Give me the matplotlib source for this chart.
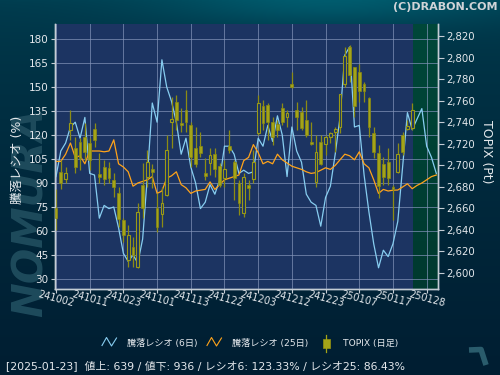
import matplotlib
matplotlib.use("Agg")
import matplotlib.pyplot as plt
import matplotlib.transforms as mtransforms
import numpy as np
from matplotlib.ticker import FuncFormatter

plt.rcParams['font.family'] = ['DejaVu Sans', 'Noto Sans CJK JP']

# x axis: one slot per trading day, a label every 7 slots
tick_labels = ["241002", "241011", "241023", "241101", "241113", "241122",
               "241203", "241212", "241223", "250107", "250117", "250128"]
tick_step = 7
last_day = 74  # 2025-01-23

# advance/decline ratio (%), 6-day and 25-day
ratio6 = [94, 110, 115, 125, 128, 118, 131, 96, 95, 68,
          76, 74, 75, 62, 46, 41, 45, 40, 55, 95,
          140, 128, 167, 150, 141, 128, 108, 118, 100, 90,
          74, 78, 89, 83, 92, 113, 113, 108, 96, 98,
          96, 97, 118, 113, 126, 116, 132, 120, 94, 125,
          110, 103, 83, 78, 76, 63, 81, 88, 108, 131,
          170, 175, 125, 126, 95, 72, 52, 37, 48, 44,
          52, 66, 100, 134, 123.33, 130, 136.5, 113, 106, 96]
ratio25 = [103.5, 103.5, 108, 115, 106, 107, 102, 110, 110, 110,
           109.5, 110, 117, 102, 100, 97, 88, 90, 91, 92,
           94, 83.5, 85, 93, 94.5, 97, 89, 87, 83.5, 85,
           85.5, 86, 90.7, 86, 89, 92, 93, 94, 95, 104,
           106, 114, 109, 102, 103.5, 102, 108, 104.5, 102.5, 100.5,
           99.5, 98.5, 97, 96, 96.5, 98, 99.5, 98.5, 101, 104.5,
           108, 107, 104.5, 109.5, 102, 99.5, 92, 83.5, 86, 85,
           85.5, 85.6, 87.5, 89.5, 86.43, 88.5, 90, 92, 94, 95]

# TOPIX daily candles (Pt)
topix_open = [2660, 2694, 2687, 2732.6, 2715.6, 2721.8, 2726.4, 2720.2, 2734, 2691.7,
              2698.6, 2697, 2686, 2673.8, 2649, 2612, 2624, 2605.6, 2681.5, 2689.3,
              2696, 2659.8, 2655, 2672.2, 2740, 2759, 2739.5, 2751.2, 2737.3, 2715.6,
              2717.8, 2692.4, 2702.3, 2710.3, 2699.2, 2687.7, 2717.8, 2703.2, 2683, 2655.8,
              2681.5, 2686.8, 2730, 2755, 2755.9, 2740.4, 2738, 2752.8, 2745, 2775.4,
              2751.2, 2749.7, 2742, 2721.5, 2684.6, 2721.2, 2719.6, 2726.4, 2730.4, 2735.1,
              2775.4, 2809.5, 2790.9, 2786.2, 2775.4, 2762, 2729.5, 2711, 2701, 2703.2,
              2680, 2693.9, 2728, 2733.2, 2734.2]
topix_high = [2678, 2705, 2698, 2751, 2726.5, 2725, 2738.8, 2725, 2738.8, 2711,
              2705, 2703, 2692.4, 2680, 2650.5, 2644, 2633.5, 2664.5, 2702, 2714,
              2701, 2673.8, 2680, 2728, 2763.6, 2765, 2752.8, 2769.8, 2740.4, 2735.7,
              2731, 2706.3, 2715.6, 2715.6, 2701.7, 2705, 2732.6, 2705, 2686, 2692.4,
              2686, 2714, 2765, 2760.5, 2757.4, 2745, 2742, 2757.4, 2751, 2786.8,
              2759, 2753.7, 2760.5, 2740.4, 2728, 2728, 2728, 2731, 2735, 2766.1,
              2810, 2812, 2791.5, 2794, 2777.6, 2763, 2735.7, 2718.7, 2707.9, 2715.6,
              2681.5, 2720.2, 2731, 2742, 2757.5]
topix_low = [2640, 2678, 2683, 2723, 2692.4, 2695.5, 2704.8, 2695.5, 2717, 2683,
             2681.5, 2683, 2670.7, 2642.8, 2628.8, 2605.6, 2605.6, 2604, 2651, 2680,
             2679, 2638, 2642.8, 2671.6, 2715.6, 2732.6, 2731, 2731, 2698.6, 2698.6,
             2707.9, 2686, 2690.8, 2689.3, 2680, 2680, 2711, 2667.6, 2653.6, 2652,
             2667.6, 2683, 2728, 2732.6, 2723.4, 2718.7, 2726.4, 2737.3, 2735, 2771.4,
             2732.6, 2732.6, 2726.4, 2718.7, 2680, 2700.1, 2709.4, 2721, 2712, 2729.5,
             2773, 2777, 2745, 2759, 2759, 2726.4, 2706.3, 2669.1, 2681.5, 2681.5,
             2649, 2692.4, 2709.4, 2732.6, 2732.6]
topix_close = [2650.5, 2683, 2693, 2738.8, 2698.6, 2706.3, 2712.5, 2704.8, 2723.3, 2689.3,
               2686.8, 2687.7, 2679.4, 2649.6, 2635, 2635, 2616.5, 2656.7, 2660, 2703.2,
               2694, 2642.8, 2664.5, 2714, 2743, 2742, 2737.6, 2740.4, 2707.9, 2700.7,
               2711, 2690.2, 2709.4, 2696.4, 2681.5, 2696.1, 2714, 2687.7, 2664.5, 2689.3,
               2679, 2703.2, 2758, 2738.8, 2740.4, 2726.4, 2732.6, 2740.4, 2748, 2772.3,
               2745, 2734.2, 2728, 2719.3, 2712.5, 2701, 2725.8, 2729.5, 2733.2, 2766.1,
               2801.4, 2783.8, 2755, 2769.2, 2769.2, 2735.1, 2712.5, 2680.6, 2689.3, 2687.7,
               2678, 2710, 2712.5, 2736.4, 2751.2]

footer = "[2025-01-23]  値上: 639 / 値下: 936 / レシオ6: 123.33% / レシオ25: 86.43%"

# colours
plot_bg = "#1c3462"
blue = "#87cdf0"
orange = "#ffa31a"
olive_fill = "#a4a418"
olive_edge = "#8a8a12"
txt = "#e4e8ec"

fig = plt.figure(figsize=(5, 3.75), dpi=100)

# figure background (teal gradient) + decorations in pixel coords
bg = fig.add_axes([0, 0, 1, 1], zorder=-10)
H, W = 375, 500
yy, xx = np.mgrid[0:H, 0:W]
t = (yy / H) ** 0.6
top_c = np.array([0, 62, 80.0])
bot_c = np.array([0, 30, 50.0])
img = top_c * (1 - t[..., None]) + bot_c * t[..., None]
glow = 30 * np.exp(-((xx - 330) / 170.0) ** 2) * np.exp(-(yy / 26.0) ** 2)
img[..., 1] += glow
img[..., 2] += glow
bg.imshow(np.clip(img / 255, 0, 1), extent=[0, W, H, 0], aspect='auto')
bg.set_xlim(0, W)
bg.set_ylim(H, 0)
bg.axis('off')

bg.text(31, 212, "NOMURA", rotation=90, fontsize=30, fontweight='heavy',
        style='italic', color="#1e4b5c", ha='center', va='center', family='DejaVu Sans')
bg.text(497, 2, "(C)DRABON.COM", fontsize=8, fontweight='bold', color="#d0d4d8",
        ha='right', va='top')
bg.text(17, 160, "騰落レシオ (%)", rotation=90, fontsize=9, color=txt,
        ha='center', va='center')
bg.text(486, 152, "TOPIX (Pt)", rotation=270, fontsize=9, color=txt,
        ha='center', va='center')

# legend row
bg.plot([102, 106.5, 111.5, 116.5], [345.5, 337.5, 346, 338], color=blue, lw=0.8)
bg.text(127, 343, "騰落レシオ (6日)", fontsize=6.6, color=txt, va='center')
bg.plot([207, 211.5, 216.5, 221.5], [345.5, 337.5, 346, 338], color=orange, lw=0.8)
bg.text(232, 343, "騰落レシオ (25日)", fontsize=6.6, color=txt, va='center')
bg.plot([326.3, 326.3], [335, 352], color=olive_fill, lw=0.9)
bg.add_patch(plt.Rectangle((323, 339), 6.6, 9, facecolor=olive_fill, edgecolor=olive_edge, lw=0.6))
bg.text(343, 343, "TOPIX (日足)", fontsize=6.6, color=txt, va='center')
bg.text(6, 366, footer, fontsize=7.8, color=txt, va='center')
bg.plot([469, 481, 486], [350, 349.5, 365], color="#2a5c6c", lw=4, solid_capstyle='butt')

# main axes
ax_l, ax_r, ax_t, ax_b = 54.5, 438, 24, 289
ax = fig.add_axes([ax_l / W, 1 - ax_b / H, (ax_r - ax_l) / W, (ax_b - ax_t) / H])
ax.set_facecolor(plot_bg)
x_lo = -0.31
x_hi = x_lo + (ax_r - ax_l) / 4.814
ax2 = ax.twinx()

days = np.arange(len(ratio6))
cdays = np.arange(len(topix_close))

# future zone (green)
grad = np.linspace(0, 1, 50)[:, None]
g_top = np.array([0, 80, 64.0]) / 255
g_bot = np.array([0, 56, 46.0]) / 255
gimg = g_top * (1 - grad[..., None]) + g_bot * grad[..., None]
ax.imshow(gimg, extent=[last_day + 0.25, x_hi + 1, 0, 300], aspect='auto', zorder=0.5)

xt = np.arange(0, len(tick_labels) * tick_step, tick_step)
ax.set_xticks(xt)
ax.set_xticklabels([])
ax.set_yticks(np.arange(30, 181, 15))
ax.grid(True, color="#8494ba", lw=0.7, alpha=0.7, zorder=1)
ax.set_axisbelow(False)

ax.plot(days, ratio6, color=blue, lw=0.9, zorder=3)
ax.plot(days, ratio25, color=orange, lw=0.9, zorder=3)

ax.set_xlim(x_lo, x_hi)
ax.set_ylim(23.75, 189.375)

# candles
o = np.array(topix_open)
c = np.array(topix_close)
h = np.array(topix_high)
lo = np.array(topix_low)
up = c >= o
ax2.vlines(cdays, lo, h, color="#8c8c14", lw=0.9, zorder=2)
body_b = np.minimum(o, c)
body_h = np.maximum(np.abs(c - o), 1.0)
ax2.bar(cdays[~up], body_h[~up], bottom=body_b[~up], width=0.58,
        color=olive_fill, edgecolor=olive_edge, lw=0.5, zorder=3)
ax2.bar(cdays[up], body_h[up], bottom=body_b[up], width=0.58,
        color=plot_bg, edgecolor="#9a9a16", lw=0.8, zorder=3)
ax2.set_ylim(2584.9, 2831.15)
ax2.set_yticks(np.arange(2600, 2821, 20))
ax2.yaxis.set_major_formatter(FuncFormatter(lambda v, p: f"{v:,.0f}"))
ax2.set_xlim(x_lo, x_hi)

for a in (ax, ax2):
    for s in ('left', 'right', 'bottom'):
        a.spines[s].set_color("#c4ccd4")
        a.spines[s].set_linewidth(1.0)
    a.spines['top'].set_visible(False)
    a.tick_params(colors="#c4ccd4", labelcolor=txt, labelsize=7.5, length=3, width=0.8, pad=1.5)
ax2.tick_params(axis='y', length=4, pad=2, labelsize=7.3)

# rotated date labels under each tick
trans = mtransforms.blended_transform_factory(ax.transData, ax.transAxes)
for pos, lab in zip(xt, tick_labels):
    ax.text(pos, -0.036, lab, transform=trans, rotation=-15, rotation_mode='anchor',
            ha='center', va='center', fontsize=7, color=txt, clip_on=False)

fig.savefig("out.png", dpi=100, facecolor=fig.get_facecolor())
